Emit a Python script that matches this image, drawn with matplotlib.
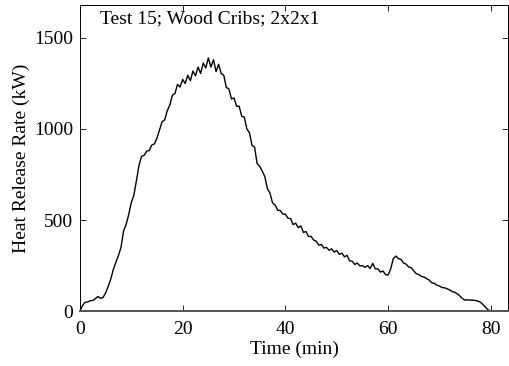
import numpy as np
import matplotlib.pyplot as plt

plt.rcParams['font.family'] = ['Liberation Serif', 'DejaVu Serif']

# time in minutes, heat release rate in kW (every 0.5 min)
time_min = np.arange(0, 83.01, 0.5)
hrr_kw = [
    0, 30, 48, 50, 57, 58, 68, 80, 70, 75,                      # 0 - 4.5
    100, 135, 175, 228, 268, 305, 350, 440, 476, 530,           # 5 - 9.5
    596, 636, 716, 800, 850, 855, 878, 882, 912, 918,           # 10 - 14.5
    950, 995, 1040, 1050, 1100, 1132, 1185, 1195, 1245, 1230,   # 15 - 19.5
    1272, 1250, 1295, 1265, 1318, 1292, 1340, 1305, 1362, 1335, # 20 - 24.5
    1390, 1340, 1380, 1315, 1355, 1305, 1295, 1228, 1220, 1165, # 25 - 29.5
    1170, 1125, 1125, 1070, 1065, 1000, 980, 910, 900, 810,     # 30 - 34.5
    795, 768, 738, 672, 648, 594, 582, 554, 552, 533,           # 35 - 39.5
    532, 510, 508, 475, 483, 458, 468, 432, 437, 410,           # 40 - 44.5
    410, 390, 384, 362, 366, 346, 350, 334, 342, 324,           # 45 - 49.5
    332, 312, 318, 298, 306, 276, 274, 256, 264, 248,           # 50 - 54.5
    250, 240, 250, 234, 262, 232, 232, 214, 220, 200,           # 55 - 59.5
    198, 232, 288, 302, 288, 284, 264, 258, 242, 238,           # 60 - 64.5
    220, 205, 200, 190, 187, 178, 170, 156, 152, 142,           # 65 - 69.5
    138, 129, 128, 122, 116, 107, 103, 94, 82, 68,              # 70 - 74.5
    60, 62, 60, 60, 58, 55, 48, 35, 20, 6,                      # 75 - 79.5
    0, 0, 0, 0, 0, 0, 0,                                        # 80 - 83
]

fig = plt.figure(figsize=(5.09, 3.66), dpi=100)
ax = fig.add_axes([0.157, 0.150, 0.841, 0.836])
ax.plot(time_min, hrr_kw, color='black', linewidth=1.0)

ax.set_xlim(0, 83.33)
ax.set_ylim(0, 1680)
ax.set_xticks([0, 20, 40, 60, 80])
ax.set_yticks([0, 500, 1000, 1500])
ax.tick_params(direction='in', length=4, width=0.6, labelsize=14,
               top=True, right=True)
ax.tick_params(axis='x', pad=7)
ax.tick_params(axis='y', pad=5)
for s in ax.spines.values():
    s.set_linewidth(0.7)
ax.spines['bottom'].set_color('#555555')
ax.spines['bottom'].set_linewidth(1.4)
ax.set_xlabel('Time (min)', fontsize=14, labelpad=2)
ax.set_ylabel('Heat Release Rate (kW)', fontsize=14, labelpad=3)
ax.text(0.047, 0.955, 'Test 15; Wood Cribs; 2x2x1', transform=ax.transAxes,
        fontsize=14, va='center', ha='left')

fig.savefig('out.png', dpi=100)
